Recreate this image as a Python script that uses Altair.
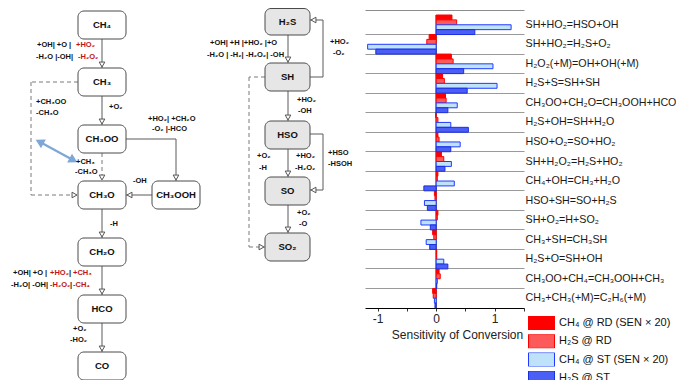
import altair as alt
import pandas as pd

# ---------------- bar chart data ----------------
reactions = [
    "SH+HO₂=HSO+OH", "SH+HO₂=H₂S+O₂", "H₂O₂(+M)=OH+OH(+M)", "H₂S+S=SH+SH",
    "CH₃OO+CH₂O=CH₃OOH+HCO", "H₂S+OH=SH+H₂O", "HSO+O₂=SO+HO₂", "SH+H₂O₂=H₂S+HO₂",
    "CH₄+OH=CH₃+H₂O", "HSO+SH=SO+H₂S", "SH+O₂=H+SO₂", "CH₃+SH=CH₃SH",
    "H₂S+O=SH+OH", "CH₃OO+CH₄=CH₃OOH+CH₃", "CH₃+CH₃(+M)=C₂H₆(+M)",
]
series = ["CH₄ @ RD (SEN × 20)", "H₂S @ RD", "CH₄ @ ST (SEN × 20)", "H₂S @ ST"]
ch4_rd = [0.27, -0.12, 0.26, 0.11, 0.16, -0.01, 0.03, 0.09, 0.03, -0.03, 0.03, -0.06, 0.01, 0.05, -0.06]
h2s_rd = [0.35, -0.16, 0.29, 0.14, 0.17, 0.03, 0.05, 0.13, 0.02, -0.02, 0.02, -0.04, 0.01, 0.07, -0.05]
ch4_st = [1.28, -1.17, 0.97, 1.04, 0.36, 0.25, 0.41, 0.26, 0.31, -0.20, -0.26, -0.17, 0.13, 0.02, -0.03]
h2s_st = [0.66, -1.03, 0.47, 0.53, 0.20, 0.55, 0.25, 0.15, -0.21, -0.15, -0.10, -0.11, 0.20, 0.01, -0.02]
x_ticks = [-1, -0.5, 0, 0.5, 1, 1.5]
fills = ["#ff0000", "#ff5a5a", "#bfe2fb", "#4b5ef5"]
strokes = ["#ff0000", "#ff0000", "#1f3bff", "#1a2fe0"]

# ---------------- pathway diagram data (layout in page pixels) ----------------
box_w_names = ["CH₄", "CH₃", "CH₃OO", "CH₃O", "CH₃OOH", "CH₂O", "HCO", "CO"]
box_w_x1 = [78, 78, 78, 78, 152, 78, 78, 78]
box_w_x2 = [126, 126, 126, 126, 200, 126, 126, 126]
box_w_y1 = [11, 68, 125, 181, 181, 238, 295, 352]
box_w_y2 = [39, 96, 153, 209, 209, 266, 323, 380]

box_g_names = ["H₂S", "SH", "HSO", "SO", "SO₂"]
box_g_x1 = [265, 265, 265, 265, 265]
box_g_x2 = [310, 310, 310, 310, 310]
box_g_y1 = [8.5, 63, 121, 177, 233]
box_g_y2 = [35, 91, 149, 205, 261]

solid_x1 = [102, 102, 126, 176, 152, 102, 102, 102, 288, 310, 323, 323, 288, 288, 310, 323, 323, 288]
solid_y1 = [39, 96, 139, 139, 195, 209, 266, 323, 35, 77, 77, 20, 91, 149, 134, 134, 190, 205]
solid_x2 = [102, 102, 176, 176, 126, 102, 102, 102, 288, 323, 323, 310, 288, 288, 323, 323, 310, 288]
solid_y2 = [68, 125, 139, 181, 195, 238, 295, 352, 63, 77, 20, 20, 121, 177, 134, 190, 190, 233]

dash_x1 = [102, 78, 31, 31, 265, 249, 249]
dash_y1 = [153, 82, 82, 195, 77, 77, 247]
dash_x2 = [102, 31, 31, 78, 249, 249, 265]
dash_y2 = [181, 82, 195, 195, 77, 247, 247]

head_x = [102, 102, 102, 176, 129.5, 74.5, 102, 102, 102, 288, 313.5, 288, 288, 313.5, 288, 261.5]
head_y = [64.5, 121.5, 177.5, 177.5, 195, 195, 234.5, 291.5, 348.5, 59.5, 20, 117.5, 173.5, 190, 229.5, 247]
head_s = ["triangle-down", "triangle-down", "triangle-down", "triangle-down", "triangle-left",
          "triangle-right", "triangle-down", "triangle-down", "triangle-down", "triangle-down",
          "triangle-left", "triangle-down", "triangle-down", "triangle-left", "triangle-down",
          "triangle-right"]

blue_x = [40, 73]
blue_y = [142, 160]
blue_angle = [208.6, 28.6]

K, R = "#111111", "#c0141c"
lab_x = [37, 76, 36, 78, 36, 36, 109, 148, 152, 76, 75, 133, 110,
         13, 50, 69, 73, 11, 50, 70, 73, 73, 70,
         210, 207, 330, 333, 297, 298, 257, 259, 296, 295, 328, 328, 297, 299]
lab_y = [45, 45, 57, 57, 102, 113, 107, 119, 129, 162, 172, 181, 224,
         273, 273, 273, 273, 285, 285, 285, 285, 329, 340,
         43, 55, 42, 53, 100, 111, 156, 168, 156, 168, 153, 164, 213, 224]
lab_t = ["+OH| +O |", "+HO₂", "-H₂O |-OH|", "-H₂O₂", "+CH₃OO", "-CH₃O", "+O₂",
         "+HO₂| +CH₂O", "-O₂  |-HCO", "+CH₃", "-CH₃O", "-OH", "-H",
         "+OH| +O |", "+HO₂", "|", "+CH₃", "-H₂O| -OH|", "-H₂O₂", "|", "-CH₄", "+O₂", "-HO₂",
         "+OH| +H |+HO₂ |+O", "-H₂O | -H₂| -H₂O₂| -OH", "+HO₂", "-O₂", "+HO₂", "-OH",
         "+O₂", "-H", "+HO₂", "-H₂O₂", "+HSO", "-HSOH", "+O₂", "-O"]
lab_c = [K, R, K, R, K, K, K, K, K, K, K, K, K,
         K, R, K, R, K, R, K, R, K, K,
         K, K, K, K, K, K, K, K, K, K, K, K, K, K]

# ---------------- frames ----------------
rows = []
for s, vals in zip(series, [ch4_rd, h2s_rd, ch4_st, h2s_st]):
    for r, v in zip(reactions, vals):
        rows.append({"reaction": r, "series": s, "value": v})
bars_df = pd.DataFrame(rows)
cats_df = pd.DataFrame({"reaction": reactions, "zero": [0] * len(reactions)})

boxw_df = pd.DataFrame({"n": box_w_names, "x": box_w_x1, "x2": box_w_x2, "y": box_w_y1, "y2": box_w_y2})
boxg_df = pd.DataFrame({"n": box_g_names, "x": box_g_x1, "x2": box_g_x2, "y": box_g_y1, "y2": box_g_y2})
boxlab_df = pd.concat([boxw_df, boxg_df], ignore_index=True)
boxlab_df["cx"] = (boxlab_df["x"] + boxlab_df["x2"]) / 2
boxlab_df["cy"] = (boxlab_df["y"] + boxlab_df["y2"]) / 2
solid_df = pd.DataFrame({"x": solid_x1, "y": solid_y1, "x2": solid_x2, "y2": solid_y2})
dash_df = pd.DataFrame({"x": dash_x1, "y": dash_y1, "x2": dash_x2, "y2": dash_y2})
head_df = pd.DataFrame({"x": head_x, "y": head_y, "s": head_s})
blue_df = pd.DataFrame({"x": blue_x, "y": blue_y, "a": blue_angle})
blue_line_df = pd.DataFrame({"x": [blue_x[0]], "y": [blue_y[0]], "x2": [blue_x[1]], "y2": [blue_y[1]]})
lab_df = pd.DataFrame({"x": lab_x, "y": lab_y, "t": lab_t, "c": lab_c})

# ---------------- geometry ----------------
W, H = 159, 298
TOPGAP = 5
STEP = (H - TOPGAP) / len(reactions)
P_OUT = TOPGAP / (2 * STEP)

xs = alt.Scale(domain=[-1.215, 1.5], nice=False, zero=False)
ys = alt.Scale(domain=reactions, paddingInner=0, paddingOuter=P_OUT, align=1, round=False)
dx = alt.Scale(domain=[365, 365 + W], nice=False, zero=False)
dy = alt.Scale(domain=[10, 10 + H], nice=False, zero=False, reverse=True)

FONT = "Liberation Sans, Arial, sans-serif"


def DX(f="x"):
    return alt.X(f"{f}:Q", scale=dx, axis=None)


def DY(f="y"):
    return alt.Y(f"{f}:Q", scale=dy, axis=None)


solid = alt.Chart(solid_df).mark_rule(color="#5a5a5a", strokeWidth=1).encode(
    x=DX(), y=DY(), x2="x2:Q", y2="y2:Q")
dashed = alt.Chart(dash_df).mark_rule(color="#7a7a7a", strokeWidth=1, strokeDash=[4, 3]).encode(
    x=DX(), y=DY(), x2="x2:Q", y2="y2:Q")
blue_line = alt.Chart(blue_line_df).mark_rule(color="#7ea7d8", strokeWidth=2.2).encode(
    x=DX(), y=DY(), x2="x2:Q", y2="y2:Q")
blue_heads = alt.Chart(blue_df).mark_point(shape="triangle-right", filled=True, fill="#7ea7d8",
                                           stroke="#7ea7d8", opacity=1, size=45).encode(
    x=DX(), y=DY(), angle=alt.Angle("a:Q", scale=None))
boxes_w = alt.Chart(boxw_df).mark_rect(cornerRadius=6, fill="white", stroke="#4a4a4a", strokeWidth=1).encode(
    x=DX(), y=DY(), x2="x2:Q", y2="y2:Q")
boxes_g = alt.Chart(boxg_df).mark_rect(cornerRadius=6, fill="#e6e6e6", stroke="#4a4a4a", strokeWidth=1).encode(
    x=DX(), y=DY(), x2="x2:Q", y2="y2:Q")
box_labels = alt.Chart(boxlab_df).mark_text(font=FONT, fontWeight="bold", fontSize=9.5, color="#111",
                                            align="center", baseline="middle").encode(
    x=DX("cx"), y=DY("cy"), text="n:N")
heads = alt.Chart(head_df).mark_point(filled=True, fill="white", stroke="#555", strokeWidth=1,
                                      opacity=1, size=32).encode(
    x=DX(), y=DY(), shape=alt.Shape("s:N", scale=None))
labels = alt.Chart(lab_df).mark_text(font=FONT, fontWeight="bold", fontSize=7.5, align="left",
                                     baseline="middle").encode(
    x=DX(), y=DY(), text="t:N", color=alt.Color("c:N", scale=None))

# ---------------- bar chart ----------------
leg = alt.Legend(orient="none", legendX=163, legendY=306, title=None,
                 symbolType="M-1,-0.54H1V0.54H-1Z", symbolSize=676, clipHeight=14,
                 rowPadding=4.3, labelFontSize=11, labelFont=FONT, labelColor="#111",
                 symbolStrokeWidth=1, padding=0, labelOffset=4, labelLimit=300, symbolOpacity=1)

zero = alt.Chart(cats_df).mark_tick(color="black", thickness=1.3, size=STEP).encode(
    x=alt.X("zero:Q", scale=xs,
            axis=alt.Axis(orient="top", labels=False, ticks=False, grid=False, title=None,
                          domainColor="#8c8c8c", domainWidth=1)),
    y=alt.Y("reaction:N", sort=reactions, scale=ys,
            axis=alt.Axis(orient="left", values=reactions[1:], bandPosition=0, grid=True,
                          gridColor="#9a9a9a", gridWidth=1, labels=False, ticks=False,
                          domain=False, title=None)),
)

bars = alt.Chart(bars_df).mark_bar(strokeWidth=1).encode(
    x=alt.X("value:Q", scale=xs,
            axis=alt.Axis(orient="bottom", values=x_ticks,
                          labelExpr="datum.value % 1 == 0 ? toString(datum.value) : ''",
                          tickSize=3, tickColor="#333", domainColor="#000", grid=False,
                          labelFontSize=12, labelFont=FONT, labelColor="#222", labelPadding=2,
                          title="Sensitivity of Conversion", titleFontSize=12, titleFont=FONT,
                          titleFontWeight="normal", titleColor="#222", titleX=92, titlePadding=5)),
    y=alt.Y("reaction:N", sort=reactions, scale=ys,
            axis=alt.Axis(orient="right", ticks=False, domain=False, grid=False, labelPadding=1,
                          labelFontSize=10.7, labelFont=FONT, labelColor="#1a1a1a", labelLimit=300,
                          title=None)),
    yOffset=alt.YOffset("series:N", sort=series,
                        scale=alt.Scale(domain=series, paddingInner=0, paddingOuter=0)),
    fill=alt.Fill("series:N", sort=series, scale=alt.Scale(domain=series, range=fills), legend=leg),
    stroke=alt.Stroke("series:N", sort=series, scale=alt.Scale(domain=series, range=strokes), legend=leg),
)

chart = alt.layer(
    solid, dashed, blue_line, blue_heads, boxes_w, boxes_g, box_labels, heads, labels, zero, bars
).resolve_scale(x="independent", y="independent").properties(
    width=W, height=H, padding={"left": 3, "top": 0, "right": 0, "bottom": 0}, background="white"
).configure_view(stroke="transparent")

chart.save("out.html", embed_options={"renderer": "svg", "actions": False})
